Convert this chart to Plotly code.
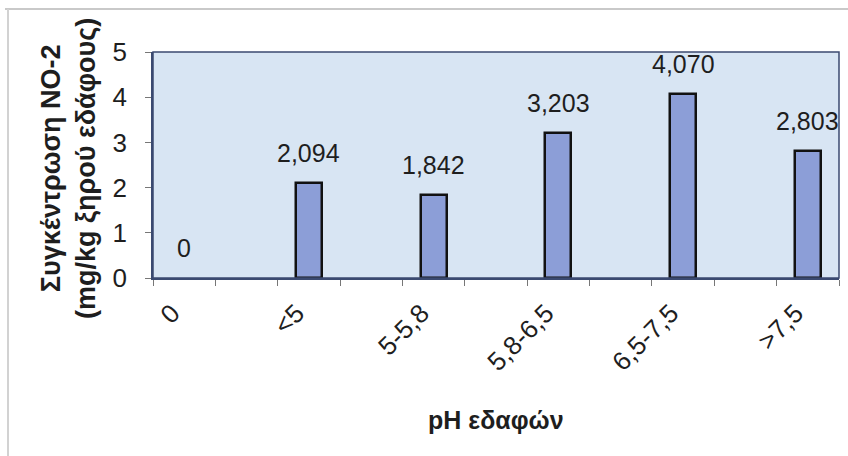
import plotly.graph_objects as go

# pH classes of the soils and mean NO2- concentration (mg/kg dry soil)
categories = ["0", "<5", "5-5,8", "5,8-6,5", "6,5-7,5", ">7,5"]
values = [0, 2.094, 1.842, 3.203, 4.070, 2.803]
y_ticks = [0, 1, 2, 3, 4, 5]

# each pH class sits on every second slot of an 11-slot axis
positions = [2 * i for i in range(len(categories))]


def fmt(v):
    return "0" if v == 0 else f"{v:.3f}".replace(".", ",")


FONT = "Arial, Liberation Sans, sans-serif"
TXT = "#1e1e1e"
W, H = 848, 456
L, R, T, B = 153, 9, 52, 178
pw, ph = W - L - R, H - T - B

fig = go.Figure()
fig.add_trace(go.Bar(
    x=positions[1:], y=values[1:], width=0.42,
    marker=dict(color="#8c9ed7", line=dict(color="#111111", width=2.5)),
    hoverinfo="x+y",
))

annotations = []
for xp, v in zip(positions, values):
    annotations.append(dict(
        x=xp, y=v, xref="x", yref="y", text=fmt(v), showarrow=False,
        yanchor="bottom", yshift=14,
        font=dict(family=FONT, size=25, color=TXT),
    ))

# axis titles
annotations.append(dict(
    x=0.5, y=-(420 - (H - B)) / ph, xref="paper", yref="paper",
    text="<b>pH εδαφών</b>", showarrow=False, xanchor="center", yanchor="middle",
    font=dict(family=FONT, size=25, color=TXT),
))
annotations.append(dict(
    x=(68 - L) / pw, y=((H - B) - 169) / ph, xref="paper", yref="paper",
    text="<b>Συγκέντρωση NO-2</b><br><b>(mg/kg ξηρού εδάφους)</b>",
    showarrow=False, textangle=-90, xanchor="center", yanchor="middle",
    font=dict(family=FONT, size=27, color=TXT),
))


def px_x(p):
    return (p - L) / pw


def px_y(p):
    return ((H - B) - p) / ph


# light grey frame of the chart area (top and left edges) and plot border
shapes = [
    dict(type="line", xref="paper", yref="paper",
         x0=px_x(5), x1=px_x(W + 5), y0=px_y(9), y1=px_y(9),
         line=dict(color="#c9c9c9", width=2)),
    dict(type="line", xref="paper", yref="paper",
         x0=px_x(8), x1=px_x(8), y0=px_y(9), y1=px_y(H + 5),
         line=dict(color="#d2d2d2", width=2)),
    dict(type="rect", xref="paper", yref="paper", x0=0, x1=1, y0=0, y1=1,
         line=dict(color="#3b4a70", width=1.5), layer="above"),
]

fig.update_layout(
    width=W, height=H,
    margin=dict(l=L, r=R, t=T, b=B),
    paper_bgcolor="white",
    plot_bgcolor="#d8e5f3",
    showlegend=False,
    bargap=0,
    annotations=annotations,
    shapes=shapes,
    xaxis=dict(
        range=[-0.5, 10.5],
        tickmode="array", tickvals=positions, ticktext=categories,
        tickangle=-45, ticks="", showgrid=False, zeroline=False,
        ticklabelshift=-12, ticklabelstandoff=8,
        tickfont=dict(family=FONT, size=26, color=TXT),
        showline=True, linecolor="#3b4a70", linewidth=1.5,
        minor=dict(tickmode="linear", tick0=-0.5, dtick=1, ticks="outside",
                   ticklen=6, tickcolor="#777777", tickwidth=1, showgrid=False),
    ),
    yaxis=dict(
        range=[0, 5], tickmode="array", tickvals=y_ticks,
        ticks="outside", ticklen=6, tickcolor="#777777",
        showgrid=False, zeroline=False,
        ticklabelstandoff=13,
        tickfont=dict(family=FONT, size=26, color=TXT),
        showline=True, linecolor="#3b4a70", linewidth=1.5,
    ),
)

fig.write_html("out.html")
